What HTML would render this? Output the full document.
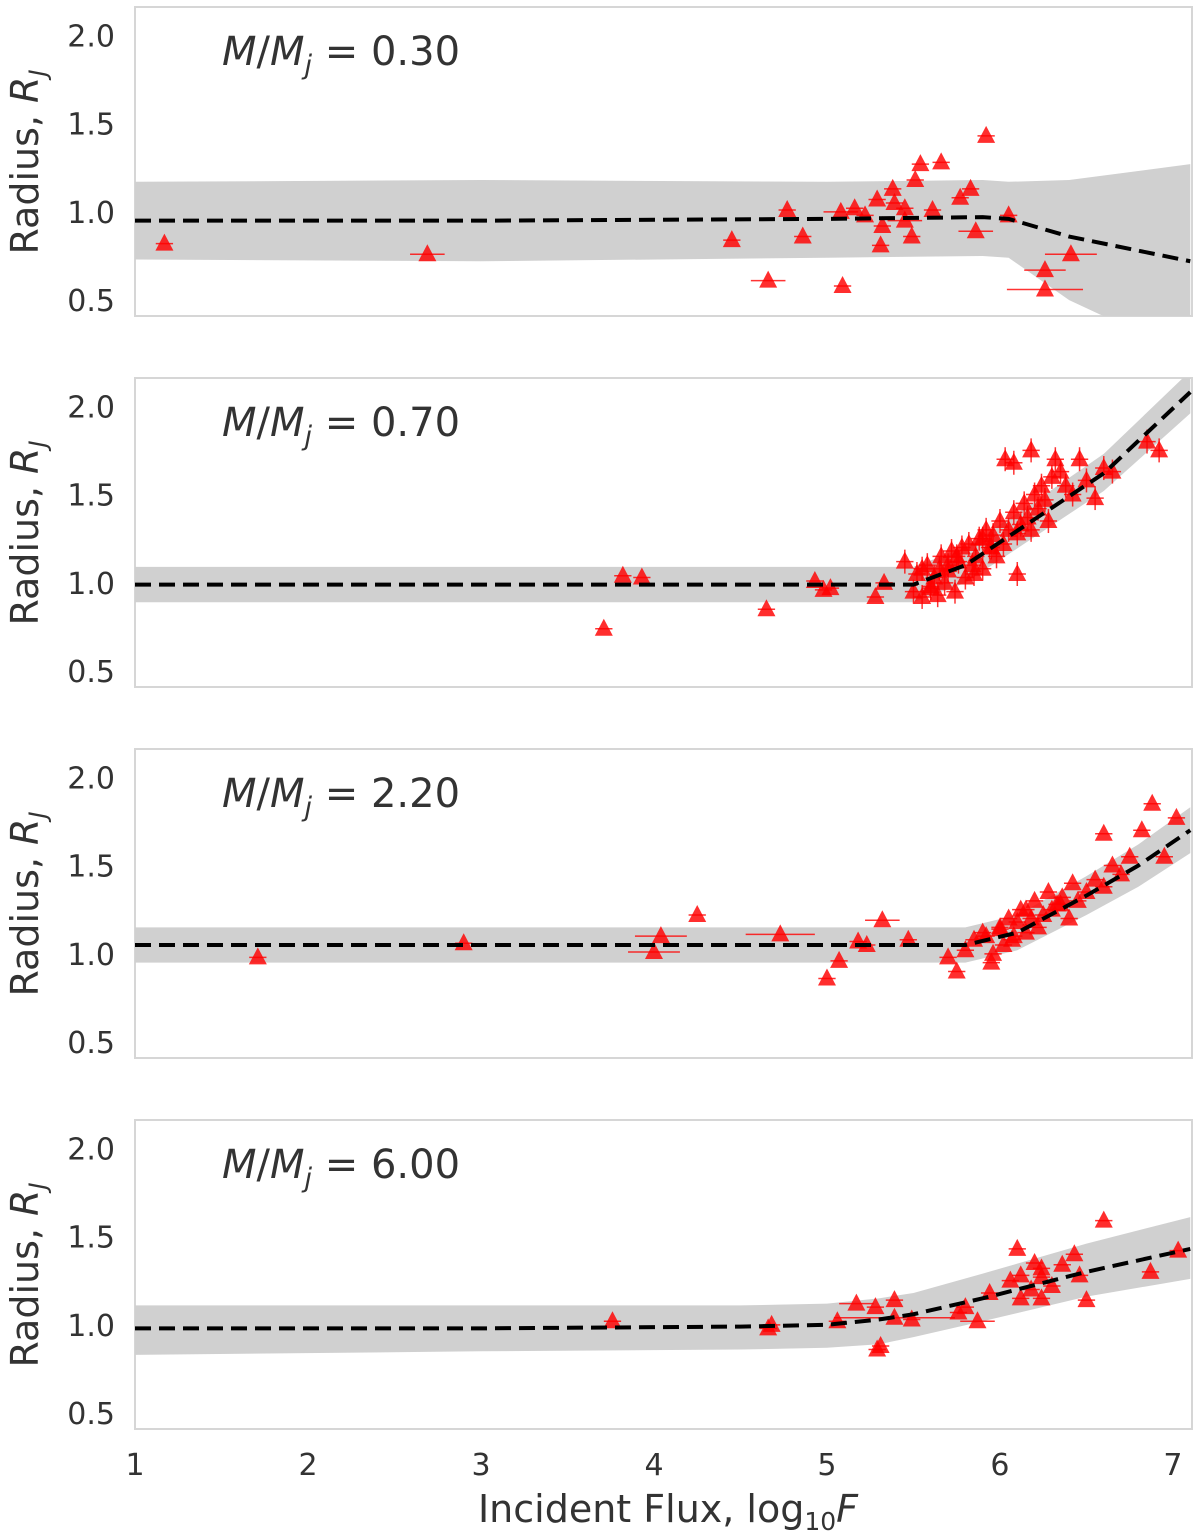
<!DOCTYPE html>
<html><head><meta charset="utf-8"><style>
html,body{margin:0;padding:0;background:#fff;width:1200px;height:1537px;overflow:hidden}
svg text{font-family:"DejaVu Sans","Liberation Sans",sans-serif;fill:#333}
</style></head><body>
<svg id="chart" width="1200" height="1537" xmlns="http://www.w3.org/2000/svg"></svg>
<script>
// ---- data ----
const massLabels = ["0.30","0.70","2.20","6.00"];
const yTicks = [0.5,1.0,1.5,2.0];
const xTicks = [1,2,3,4,5,6,7];
// fit curves: flux knots, centre, upper, lower
const fitX = [
 [1,3,5,5.9,6.05,6.4,7.1],
 [1,4,5.5,5.8,6.2,6.6,7.1],
 [1,4,5.8,6.1,6.5,6.8,7.1],
 [1,3,4.5,5.0,5.3,5.5,5.9,6.5,7.1]
];
const fitY = [
 [0.95,0.95,0.96,0.97,0.96,0.86,0.72],
 [0.99,0.99,0.99,1.1,1.36,1.62,2.08],
 [1.05,1.05,1.05,1.12,1.33,1.5,1.7],
 [0.98,0.98,0.99,1.0,1.03,1.06,1.15,1.3,1.43]
];
const fitHi = [
 [1.17,1.18,1.17,1.18,1.17,1.18,1.27],
 [1.09,1.09,1.09,1.2,1.46,1.73,2.2],
 [1.15,1.15,1.15,1.22,1.44,1.62,1.83],
 [1.11,1.11,1.11,1.12,1.15,1.18,1.29,1.46,1.61]
];
const fitLo = [
 [0.73,0.72,0.74,0.75,0.74,0.5,0.18],
 [0.89,0.89,0.89,1.0,1.26,1.52,1.96],
 [0.95,0.95,0.95,1.02,1.22,1.38,1.57],
 [0.83,0.85,0.86,0.87,0.89,0.93,1.02,1.16,1.26]
];
const ptX = [
 [1.17,2.69,4.45,4.66,4.77,4.86,5.09,5.08,5.16,5.29,5.31,5.38,5.45,5.49,5.51,5.54,5.61,5.66,5.77,5.83,5.86,5.92,6.05,6.26,6.26,6.41,5.39,5.22,5.45,5.32],
 [3.71,3.82,3.93,4.65,4.93,4.98,5.02,5.28,5.33,5.45,5.5,5.52,5.55,5.58,5.6,5.62,5.64,5.66,5.68,5.7,5.72,5.74,5.76,5.78,5.8,5.82,5.84,5.86,5.88,5.9,5.92,5.94,5.96,5.98,6.0,6.02,6.05,6.08,6.1,6.12,6.14,6.16,6.18,6.2,6.22,6.24,6.26,6.28,6.3,6.32,6.35,6.38,6.42,6.46,6.5,6.55,6.6,6.65,6.85,6.92,6.03,6.08,6.18,6.1,5.6,5.7,5.55,5.9,5.65,5.75,5.85,5.95],
 [1.71,2.9,4.0,4.04,4.25,4.73,5.0,5.07,5.18,5.23,5.32,5.47,5.7,5.8,5.96,5.75,5.85,5.9,5.95,6.0,6.02,6.05,6.08,6.1,6.12,6.15,6.18,6.2,6.22,6.25,6.28,6.3,6.33,6.36,6.4,6.42,6.45,6.5,6.55,6.6,6.65,6.7,6.75,6.88,7.02,6.95,6.6,6.82,5.92,6.0,6.07,6.15,6.35],
 [3.76,4.66,4.68,5.06,5.17,5.28,5.29,5.31,5.39,5.39,5.49,5.76,5.87,5.8,5.94,6.06,6.1,6.12,6.12,6.18,6.24,6.24,6.24,6.36,6.43,6.46,6.5,6.6,6.87,7.03,6.3,6.2]
];
const ptY = [
 [0.82,0.76,0.84,0.61,1.01,0.86,0.58,1.0,1.02,1.07,0.81,1.13,0.95,0.86,1.18,1.27,1.01,1.28,1.08,1.13,0.89,1.43,0.98,0.67,0.56,0.76,1.05,0.98,1.02,0.92],
 [0.74,1.04,1.03,0.85,1.01,0.96,0.97,0.92,1.0,1.12,0.95,1.05,0.92,1.1,0.97,1.03,0.93,1.15,1.0,1.07,1.18,0.95,1.12,1.2,1.03,1.22,1.1,1.15,1.25,1.08,1.3,1.2,1.27,1.15,1.35,1.22,1.3,1.4,1.28,1.33,1.45,1.37,1.3,1.5,1.42,1.55,1.47,1.35,1.6,1.7,1.63,1.55,1.5,1.7,1.58,1.48,1.65,1.63,1.8,1.75,1.7,1.68,1.75,1.05,0.98,1.1,1.08,1.25,1.08,1.15,1.05,1.2],
 [0.98,1.06,1.01,1.1,1.22,1.11,0.86,0.96,1.07,1.05,1.19,1.08,0.98,1.02,1.0,0.9,1.08,1.12,0.95,1.15,1.05,1.2,1.1,1.18,1.25,1.12,1.2,1.3,1.15,1.22,1.35,1.25,1.28,1.32,1.2,1.4,1.3,1.35,1.42,1.38,1.5,1.45,1.55,1.85,1.77,1.55,1.68,1.7,1.1,1.14,1.08,1.25,1.28],
 [1.02,0.98,1.0,1.02,1.12,1.1,0.86,0.88,1.14,1.04,1.03,1.07,1.02,1.1,1.18,1.25,1.43,1.28,1.15,1.2,1.27,1.15,1.32,1.34,1.4,1.28,1.14,1.59,1.3,1.42,1.22,1.35]
];
const ptXerr = [
 [0,0.1,0,0.1,0,0,0,0.1,0,0.05,0,0,0.1,0,0.05,0.05,0,0,0,0,0.1,0,0,0.12,0.22,0.15,0,0,0,0],
 [],[0,0,0.15,0.15,0,0.2,0,0,0,0,0.1,0,0,0,0,0,0,0,0,0,0,0,0,0,0,0,0,0,0,0,0,0,0,0,0,0,0,0,0,0,0,0,0,0,0,0,0,0,0,0,0,0,0],
 [0,0,0,0,0.1,0,0,0,0,0.35,0,0,0.1,0,0,0,0,0,0,0,0,0,0,0,0,0,0,0,0,0,0,0]
];
// ---- layout ----
const svg=document.getElementById('chart');const NS='http://www.w3.org/2000/svg';
const X0=135,X1=1192,PH=309,tops=[7,378,749,1120];
const xMin=1,xMax=7.11,yMin=0.41,yMax=2.16;
const xs=v=>X0+(v-xMin)/(xMax-xMin)*(X1-X0);
function mk(t,a,p){const e=document.createElementNS(NS,t);for(const k in a)e.setAttribute(k,a[k]);(p||svg).appendChild(e);return e;}
massLabels.forEach((lab,p)=>{
 const top=tops[p];const ys=v=>top+(yMax-v)/(yMax-yMin)*PH;
 const g=mk('g',{});
 
 
 const cp=mk('clipPath',{id:'c'+p},g);mk('rect',{x:X0,y:top,width:X1-X0,height:PH},cp);
 const fr=mk('rect',{x:X0,y:top,width:X1-X0,height:PH,fill:'#fff',stroke:'#d6d6d6','stroke-width':2},g);
 
 
 const inner=mk('g',{'clip-path':'url(#c'+p+')'},g);
 let d='';fitX[p].forEach((x,i)=>d+=(i?'L':'M')+xs(x)+','+ys(fitHi[p][i]));
 for(let i=fitX[p].length-1;i>=0;i--)d+='L'+xs(fitX[p][i])+','+ys(fitLo[p][i]);
 const band=mk('path',{d:d+'Z',fill:'#d0d0d0'},inner);
 
 
 ptX[p].forEach((x,i)=>{
  const cx=xs(x),cy=ys(ptY[p][i]);const xe=(ptXerr[p][i]||0.05);
  mk('line',{x1:xs(x-xe),x2:xs(x+xe),y1:cy,y2:cy,stroke:'#f00','stroke-opacity':0.8,'stroke-width':1.5},inner);
  if(p==1&&x>5.4) mk('line',{x1:cx,x2:cx,y1:cy-12,y2:cy+12,stroke:'#f00','stroke-opacity':0.8,'stroke-width':1.5},inner);
  const t=mk('polygon',{points:`${cx},${cy-10} ${cx-9},${cy+7} ${cx+9},${cy+7}`,fill:'#f00','fill-opacity':0.82},inner);
  
  
 });
 let ld='';fitX[p].forEach((x,i)=>ld+=(i?'L':'M')+xs(x)+','+ys(fitY[p][i]));
 const fl=mk('path',{d:ld,fill:'none',stroke:'#000','stroke-width':4,'stroke-dasharray':'16,8'},inner);
 
 
 yTicks.forEach(v=>{const t=mk('text',{x:115,y:ys(v)+11,'text-anchor':'end','font-size':30},g);t.textContent=v.toFixed(1);
  
  });
 const yl=mk('text',{x:0,y:0,'font-size':38,'text-anchor':'middle',transform:`translate(38,${top+155}) rotate(-90)`},g);
 yl.innerHTML='Radius, <tspan font-style="italic">R</tspan><tspan font-style="italic" font-size="24" dy="8">J</tspan>';
 
 
 const tt=mk('text',{x:222,y:top+58,'font-size':40},g);
 tt.innerHTML='<tspan font-style="italic">M</tspan>/<tspan font-style="italic">M</tspan><tspan font-style="italic" font-size="27" dy="9">j</tspan><tspan dy="-9"> = '+lab+'</tspan>';
 
 
});
xTicks.forEach(v=>{const t=mk('text',{x:xs(v),y:1475,'text-anchor':'middle','font-size':30});t.textContent=v;
 
 });
const xl=mk('text',{x:668,y:1522,'text-anchor':'middle','font-size':38});
xl.innerHTML='Incident Flux, log<tspan font-size="25" dy="8">10</tspan><tspan dy="-8" font-style="italic">F</tspan>';


</script>
</body></html>
